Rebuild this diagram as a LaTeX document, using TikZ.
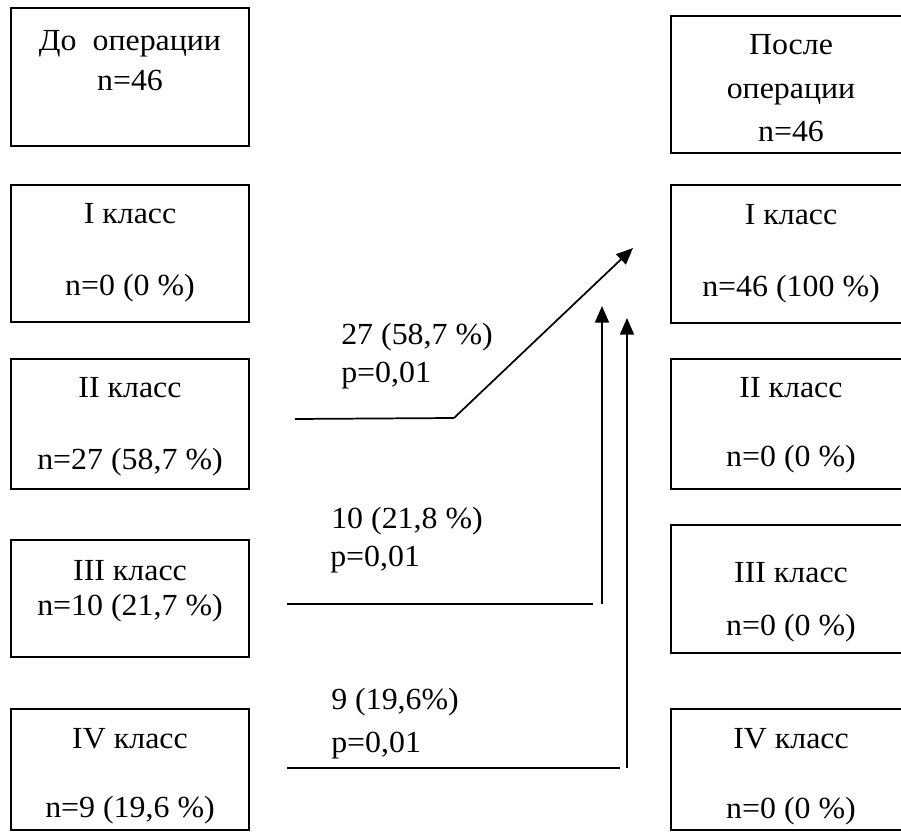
\documentclass[tikz,border=0pt]{standalone}
\usepackage{fontspec}
\setmainfont{Liberation Serif}[FakeStretch=1.04]
\usetikzlibrary{arrows.meta,fit}
\begin{document}
\begin{tikzpicture}[x=0.75pt,y=-0.75pt,
  box/.style={draw, line width=1.4pt, inner sep=0pt},
  txt/.style={anchor=base, inner sep=0pt, font=\fontsize{23}{27}\selectfont},
  lbl/.style={anchor=base west, inner sep=0pt, font=\fontsize{23}{27}\selectfont},
  conn/.style={line width=1.3pt},
  arr/.style={conn, -{Triangle[length=12.5pt,width=10.5pt]}}]
\useasboundingbox (0,0) rectangle (901,834);
% left column
\node[box, fit={(11,8) (249,146)}] (L1) {};
\node[box, fit={(11,185) (249,322)}] (L2) {};
\node[box, fit={(11,359) (249,489)}] (L3) {};
\node[box, fit={(11,540) (249,657)}] (L4) {};
\node[box, fit={(11,709) (249,830)}] (L5) {};
% right column
\node[box, fit={(671,16) (911,153)}] (R1) {};
\node[box, fit={(671,185) (911,323)}] (R2) {};
\node[box, fit={(671,359) (911,489)}] (R3) {};
\node[box, fit={(671,525) (911,653)}] (R4) {};
\node[box, fit={(671,709) (911,830)}] (R5) {};
% left texts
\node[txt] (L1a) at (130,51) {До\ \ операции};
\node[txt] (L1b) at (130,91) {n=46};
\node[txt] (L2a) at (130,224) {I класс};
\node[txt] (L2b) at (130,296) {n=0 (0 \%)};
\node[txt] (L3a) at (130,398) {II класс};
\node[txt] (L3b) at (130,470) {n=27 (58,7 \%)};
\node[txt] (L4a) at (130,581) {III класс};
\node[txt] (L4b) at (130,616) {n=10 (21,7 \%)};
\node[txt] (L5a) at (130,748) {IV класс};
\node[txt] (L5b) at (130,817) {n=9 (19,6 \%)};
% right texts
\node[txt] (R1a) at (791,55) {После};
\node[txt] (R1b) at (791,99) {операции};
\node[txt] (R1c) at (791,142) {n=46};
\node[txt] (R2a) at (791,225) {I класс};
\node[txt] (R2b) at (791,297) {n=46 (100 \%)};
\node[txt] (R3a) at (791,398) {II класс};
\node[txt] (R3b) at (791,467) {n=0 (0 \%)};
\node[txt] (R4a) at (791,583) {III класс};
\node[txt] (R4b) at (791,635) {n=0 (0 \%)};
\node[txt] (R5a) at (791,748) {IV класс};
\node[txt] (R5b) at (791,818) {n=0 (0 \%)};
% flow labels
\node[lbl] (F1a) at (341,345) {27 (58,7 \%)};
\node[lbl] (F1b) at (341,383) {p=0,01};
\node[lbl] (F2a) at (331,529) {10 (21,8 \%)};
\node[lbl] (F2b) at (330,567) {p=0,01};
\node[lbl] (F3a) at (331,710) {9 (19,6\%)};
\node[lbl] (F3b) at (331,752) {p=0,01};
% connector points
\coordinate (c1s) at (295,419);
\coordinate (c1k) at (454,418);
\coordinate (c1e) at (633,248);
\coordinate (c2s) at (287,604);
\coordinate (c2k) at (593,604);
\coordinate (c2v) at (602,604);
\coordinate (c2e) at (602,306);
\coordinate (c3s) at (287,768);
\coordinate (c3k) at (620,768);
\coordinate (c3v) at (627,768);
\coordinate (c3e) at (627,318);
% connectors
\draw[conn] (c1s) -- (c1k);
\draw[arr] (c1k) -- (c1e);
\draw[conn] (c2s) -- (c2k);
\draw[arr] (c2v) -- (c2e);
\draw[conn] (c3s) -- (c3k);
\draw[arr] (c3v) -- (c3e);
\end{tikzpicture}
\end{document}
